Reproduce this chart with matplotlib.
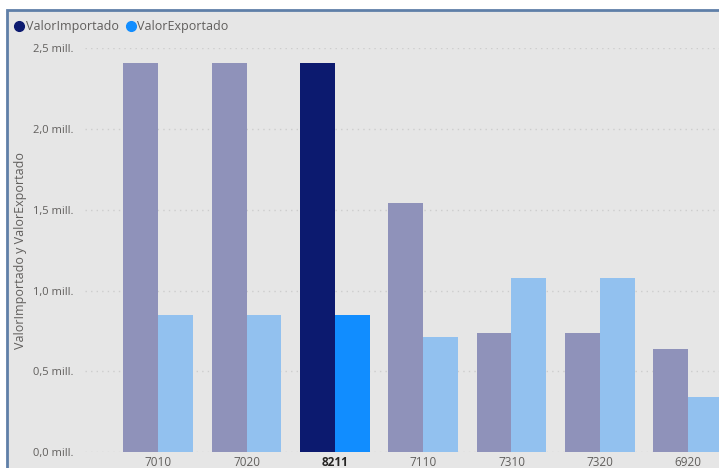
"""
importado vs exportado por codigo
"""

import matplotlib.pyplot as plt
from matplotlib.lines import Line2D
from matplotlib.patches import Rectangle
from matplotlib.ticker import FuncFormatter
import numpy as np

plt.rcParams["font.family"] = ["Open Sans", "DejaVu Sans"]

codigos = ["7010", "7020", "8211", "7110", "7310", "7320", "6920"]
importado = [2.41, 2.41, 2.41, 1.54, 0.74, 0.74, 0.64]   # mill.
exportado = [0.85, 0.85, 0.85, 0.71, 1.08, 1.08, 0.34]   # mill.
seleccion = "8211"

bg = "#e6e6e6"
gris = "#605e5c"
c_imp, c_exp = "#0c1a6f", "#118dff"
c_imp_off, c_exp_off = "#8f92ba", "#92c1ef"

fig = plt.figure(figsize=(7.19, 4.68), dpi=100)
fig.patch.set_facecolor("white")
fig.add_artist(Rectangle((7 / 719, -0.01), 1.0, 1 - 10 / 468 + 0.01,
                         transform=fig.transFigure, facecolor=bg,
                         edgecolor="#5f7fa8", linewidth=2.0, zorder=0))

ax = fig.add_axes([85 / 719, 16 / 468, 1 - 85 / 719, (452 - 48) / 468 * 0.999])
ax.set_facecolor(bg)

x = np.arange(len(codigos))
w = 0.395
imp_cols = [c_imp if c == seleccion else c_imp_off for c in codigos]
exp_cols = [c_exp if c == seleccion else c_exp_off for c in codigos]
ax.bar(x - w / 2, importado, w, color=imp_cols, zorder=3)
ax.bar(x + w / 2, exportado, w, color=exp_cols, zorder=3)

ax.set_xlim(-0.83, 6.35)
ax.set_ylim(0, 2.5)
ax.set_yticks([0, 0.5, 1.0, 1.5, 2.0, 2.5])
ax.yaxis.set_major_formatter(
    FuncFormatter(lambda v, p: f"{v:.1f}".replace(".", ",") + " mill."))
ax.grid(axis="y", color="#cdcdcd", linestyle=(0, (1, 3)), linewidth=1.0, zorder=0)
for s in ax.spines.values():
    s.set_visible(False)
ax.tick_params(axis="both", length=0, labelcolor=gris)
ax.tick_params(axis="y", pad=8, labelsize=8)
ax.tick_params(axis="x", pad=3, labelsize=8.5)
ax.set_xticks(x)
ax.set_xticklabels(codigos)
for t in ax.get_xticklabels():
    if t.get_text() == seleccion:
        t.set_fontweight("bold")
        t.set_color("#252423")

ax.set_ylabel("ValorImportado y ValorExportado", fontsize=9, color=gris)
ax.yaxis.set_label_coords(-0.092, 0.5)

handles = [Line2D([], [], marker="o", linestyle="", color=c_imp, markersize=7),
           Line2D([], [], marker="o", linestyle="", color=c_exp, markersize=7)]
leg = fig.legend(handles, ["ValorImportado", "ValorExportado"], loc="upper left",
                 bbox_to_anchor=(8 / 719, 1 - 15 / 468), ncol=2, frameon=False,
                 fontsize=9, handletextpad=0.0, columnspacing=0.5,
                 handlelength=1.0, borderaxespad=0)
for t in leg.get_texts():
    t.set_color(gris)

fig.savefig("out.png", dpi=100, facecolor=fig.get_facecolor())
